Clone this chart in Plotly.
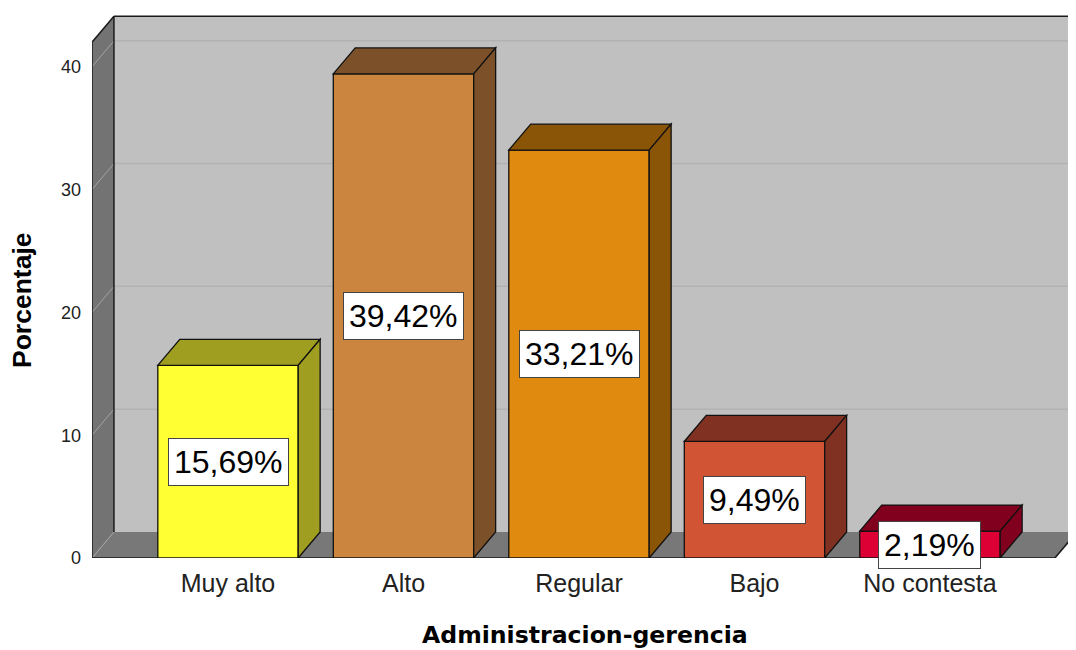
import plotly.graph_objects as go

categories = ["Muy alto", "Alto", "Regular", "Bajo", "No contesta"]
values = [15.69, 39.42, 33.21, 9.49, 2.19]
value_labels = ["15,69%", "39,42%", "33,21%", "9,49%", "2,19%"]
y_ticks = [0, 10, 20, 30, 40]
front_colors = ["#ffff33", "#cc853f", "#e08a0f", "#d15535", "#dc0034"]
dark_colors = ["#a09e20", "#7c5129", "#8a5507", "#813122", "#80001e"]

# geometry (styles)
XMIN, XMAX = -0.775, 4.832
YMAX = 44.38
YTOP = 42.0
DX, DY = 0.125, 2.12
BW = 0.8
XR_FRONT = 4.712

fig = go.Figure()
fig.add_trace(go.Bar(
    x=list(range(len(categories))), y=values, width=BW,
    marker=dict(color=front_colors, line=dict(color="#111111", width=1.3)),
    hoverinfo="skip", showlegend=False))

shapes = []
# back wall
shapes.append(dict(type="rect", xref="x", yref="y", x0=XMIN + DX, x1=XMAX + 0.2,
                   y0=DY, y1=YTOP + DY, fillcolor="#c0c0c0", line=dict(width=0), layer="below"))
# floor
shapes.append(dict(type="path", xref="x", yref="y",
                   path=f"M {XMIN},0 L {XR_FRONT},0 L {XR_FRONT + DX},{DY} L {XMIN + DX},{DY} Z",
                   fillcolor="#787878", line=dict(width=0), layer="below"))
# left wall
shapes.append(dict(type="path", xref="x", yref="y",
                   path=f"M {XMIN},0 L {XMIN + DX},{DY} L {XMIN + DX},{YTOP + DY} L {XMIN},{YTOP} Z",
                   fillcolor="#737373", line=dict(width=0), layer="below"))
# gridlines
for t in y_ticks:
    if t > 0:
        shapes.append(dict(type="line", xref="x", yref="y", x0=XMIN + DX, x1=XMAX + 0.2,
                           y0=t + DY, y1=t + DY, line=dict(color="#b2b2b2", width=1.5), layer="below"))
    shapes.append(dict(type="line", xref="x", yref="y", x0=XMIN, x1=XMIN + DX,
                       y0=t, y1=t + DY, line=dict(color="#a4a4a4", width=1), layer="below"))
# edges
edge = dict(color="#1a1a1a", width=1.5)
shapes.append(dict(type="line", xref="x", yref="y", x0=XMIN, x1=XMIN, y0=0, y1=YTOP, line=edge, layer="below"))
shapes.append(dict(type="line", xref="x", yref="y", x0=XMIN + DX, x1=XMIN + DX, y0=DY, y1=YTOP + DY, line=edge, layer="below"))
shapes.append(dict(type="line", xref="x", yref="y", x0=XMIN, x1=XMIN + DX, y0=YTOP, y1=YTOP + DY, line=edge, layer="below"))
shapes.append(dict(type="line", xref="x", yref="y", x0=XMIN + DX, x1=XMAX + 0.2, y0=YTOP + DY, y1=YTOP + DY, line=edge, layer="below"))
shapes.append(dict(type="line", xref="x", yref="y", x0=XMIN, x1=XR_FRONT, y0=0, y1=0, line=edge, layer="below"))
shapes.append(dict(type="line", xref="x", yref="y", x0=XR_FRONT, x1=XR_FRONT + DX, y0=0, y1=DY, line=edge, layer="below"))

# bar top and side faces
bar_edge = dict(color="#111111", width=1.3)
for i, v in enumerate(values):
    l, r = i - BW / 2, i + BW / 2
    shapes.append(dict(type="path", xref="x", yref="y",
                       path=f"M {l},{v} L {r},{v} L {r + DX},{v + DY} L {l + DX},{v + DY} Z",
                       fillcolor=dark_colors[i], line=bar_edge, layer="above"))
    shapes.append(dict(type="path", xref="x", yref="y",
                       path=f"M {r},0 L {r + DX},{DY} L {r + DX},{v + DY} L {r},{v} Z",
                       fillcolor=dark_colors[i], line=bar_edge, layer="above"))

annotations = []
for i, v in enumerate(values):
    annotations.append(dict(x=i, y=v / 2, xref="x", yref="y", text=value_labels[i],
                            showarrow=False, bgcolor="white", bordercolor="#444444",
                            borderwidth=1, borderpad=5,
                            font=dict(family="Arial, Liberation Sans", size=32, color="black")))
# page offset of the figure (browser body margin)
OFF = 8
annotations.append(dict(x=22 - OFF, y=300 - OFF, xref="paper", yref="paper", text="<b>Porcentaje</b>",
                        showarrow=False, textangle=-90, xanchor="center", yanchor="middle",
                        font=dict(family="Arial, Liberation Sans", size=26.5, color="black")))
annotations.append(dict(x=585 - OFF, y=635 - OFF, xref="paper", yref="paper",
                        text="<b>Administracion-gerencia</b>", showarrow=False,
                        xanchor="center", yanchor="middle",
                        font=dict(family="DejaVu Sans", size=23.6, color="black")))

W, H = 1076 - OFF, 650 - OFF
L, R, T, B = 92 - OFF, 0, 13 - OFF, 92
pw, ph = W - L - R, H - T - B
for a in annotations[-2:]:
    px, py = a["x"], a["y"]
    a["x"] = (px - L) / pw
    a["y"] = (H - B - py) / ph

fig.update_layout(
    width=W, height=H,
    margin=dict(l=L, r=R, t=T, b=B, pad=0, autoexpand=False),
    paper_bgcolor="white", plot_bgcolor="white",
    shapes=shapes, annotations=annotations,
    bargap=0.2,
    xaxis=dict(range=[XMIN, XMAX], tickvals=list(range(len(categories))), ticktext=categories,
               showgrid=False, zeroline=False, showline=False, ticks="", automargin=False,
               ticklabelstandoff=8,
               tickfont=dict(family="Arial, Liberation Sans", size=25, color="#222222"), fixedrange=True),
    yaxis=dict(range=[0, YMAX], tickvals=y_ticks, showgrid=False, zeroline=False, showline=False,
               ticks="", ticklabelstandoff=10, automargin=False,
               tickfont=dict(family="Arial, Liberation Sans", size=18, color="#222222"), fixedrange=True),
)

fig.write_html("out.html")
